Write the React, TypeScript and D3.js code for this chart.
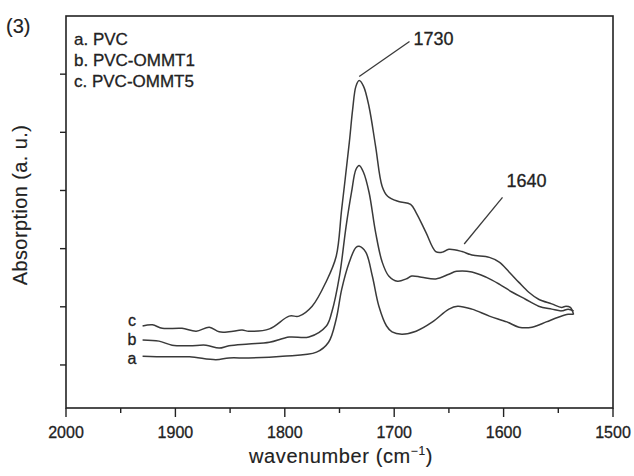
import React from "react";
import * as d3 from "d3";

// ---- data ----
const wnC = [1930, 1921, 1912, 1894, 1881, 1869, 1860, 1851, 1839, 1833, 1814, 1796, 1787, 1775, 1762, 1753, 1748, 1741, 1738, 1735, 1732, 1728, 1723, 1717, 1711, 1706, 1696, 1685, 1680, 1671, 1662, 1656, 1650, 1638, 1629, 1613, 1604, 1595, 1586, 1577, 1568, 1556, 1547, 1543, 1539, 1536];
const absC = [0.67, 0.69, 0.63, 0.63, 0.58, 0.65, 0.57, 0.57, 0.6, 0.58, 0.62, 0.84, 0.84, 1.01, 1.44, 1.87, 2.68, 3.83, 4.39, 4.79, 4.89, 4.79, 4.44, 3.76, 3.07, 2.9, 2.81, 2.76, 2.62, 2.28, 1.95, 1.94, 1.99, 1.95, 1.89, 1.85, 1.77, 1.6, 1.42, 1.25, 1.13, 1.05, 0.99, 1.01, 0.99, 0.87];

const wnB = [1930, 1915, 1903, 1887, 1872, 1860, 1851, 1833, 1814, 1796, 1778, 1762, 1757, 1750, 1744, 1739, 1735, 1732, 1728, 1723, 1717, 1711, 1705, 1697, 1689, 1684, 1675, 1662, 1650, 1643, 1629, 1616, 1604, 1592, 1580, 1568, 1556, 1547, 1541, 1536];
const absB = [0.43, 0.41, 0.34, 0.33, 0.34, 0.29, 0.33, 0.36, 0.39, 0.48, 0.48, 0.67, 0.91, 1.53, 2.38, 2.97, 3.36, 3.43, 3.31, 2.97, 2.28, 1.77, 1.53, 1.44, 1.48, 1.53, 1.51, 1.48, 1.56, 1.61, 1.6, 1.51, 1.39, 1.25, 1.13, 1.01, 0.96, 0.93, 0.96, 0.93];

const wnA = [1930, 1908, 1887, 1863, 1851, 1833, 1802, 1771, 1760, 1753, 1748, 1741, 1735, 1732, 1726, 1720, 1714, 1707, 1702, 1693, 1680, 1665, 1650, 1642, 1629, 1613, 1597, 1586, 1574, 1561, 1550, 1541, 1536];
const absA = [0.15, 0.14, 0.14, 0.09, 0.12, 0.12, 0.15, 0.22, 0.39, 0.79, 1.3, 1.77, 2.02, 2.04, 1.94, 1.53, 1.01, 0.67, 0.57, 0.53, 0.58, 0.74, 0.96, 1.01, 0.96, 0.84, 0.74, 0.65, 0.65, 0.74, 0.82, 0.87, 0.87];

const seriesNames = ["a", "b", "c"];
const legendLabels = ["a. PVC", "b. PVC-OMMT1", "c. PVC-OMMT5"];
const xMajorTicks = [2000, 1900, 1800, 1700, 1600, 1500];
const xMinorTicks = [1950, 1850, 1750, 1650, 1550];
const yTicks = [0, 1, 2, 3, 4, 5];

// annotations: label, line start [wn, abs], line end [wn, abs]
const annotLabels = ["1730", "1640"];
const annotFrom = [[1732, 4.96], [1636, 2.08]];
const annotTo = [[1686, 5.56], [1601, 2.88]];

const W = 634;
const H = 476;
const left = 66, right = 613, top = 16, bottom = 408;

export default function App() {
  const x = d3.scaleLinear().domain([2000, 1500]).range([left, right]);
  const y = d3.scaleLinear().domain([-0.74, 6]).range([bottom, top]);

  const line = d3
    .line<[number, number]>()
    .x((d) => x(d[0]))
    .y((d) => y(d[1]))
    .curve(d3.curveCatmullRom.alpha(0.5));

  const curves = [
    wnA.map((w, i) => [w, absA[i]] as [number, number]),
    wnB.map((w, i) => [w, absB[i]] as [number, number]),
    wnC.map((w, i) => [w, absC[i]] as [number, number]),
  ];

  const font = "'Liberation Sans', Arial, Helvetica, sans-serif";
  const ink = "#222";
  const curveInk = "#3a3a3a";
  const heavy = { stroke: ink, strokeWidth: 0.3 };
  const light = { stroke: ink, strokeWidth: 0.15 };

  return (
    <svg
      width={W}
      height={H}
      viewBox={`0 0 ${W} ${H}`}
      style={{ position: "absolute", left: 0, top: 0, background: "#fff" }}
      fontFamily={font}
    >
      <rect x={0} y={0} width={W} height={H} fill="#fff" />
      {/* frame */}
      <rect x={left} y={top} width={right - left} height={bottom - top} fill="none" stroke={ink} strokeWidth={1.6} />

      {/* x ticks */}
      {xMajorTicks.map((t) => (
        <g key={"xm" + t}>
          <line x1={x(t)} x2={x(t)} y1={bottom} y2={bottom + 9} stroke={ink} strokeWidth={1.4} />
          <text x={x(t)} y={438} fontSize={16} textAnchor="middle" fill={ink} {...heavy}>
            {t}
          </text>
        </g>
      ))}
      {xMinorTicks.map((t) => (
        <line key={"xn" + t} x1={x(t)} x2={x(t)} y1={bottom} y2={bottom + 5} stroke={ink} strokeWidth={1.4} />
      ))}

      {/* y ticks */}
      {yTicks.map((t) => (
        <line key={"y" + t} x1={left - 6} x2={left} y1={y(t)} y2={y(t)} stroke={ink} strokeWidth={1.4} />
      ))}

      {/* curves */}
      {curves.map((c, i) => (
        <path key={seriesNames[i]} d={line(c) || ""} fill="none" stroke={curveInk} strokeWidth={1.5} strokeLinejoin="round" />
      ))}

      {/* curve labels */}
      {seriesNames.map((n, i) => (
        <text key={"lab" + n} x={132} y={[364, 345, 326][i]} fontSize={16} textAnchor="middle" fill={ink} {...heavy}>
          {n}
        </text>
      ))}

      {/* legend */}
      {legendLabels.map((l, i) => (
        <text key={l} x={74} y={45 + i * 21} fontSize={17} fill={ink} {...heavy}>
          {l}
        </text>
      ))}

      {/* annotations */}
      {annotLabels.map((l, i) => (
        <g key={l}>
          <line
            x1={x(annotFrom[i][0])}
            y1={y(annotFrom[i][1])}
            x2={x(annotTo[i][0])}
            y2={y(annotTo[i][1])}
            stroke={curveInk}
            strokeWidth={1.3}
          />
          <text x={x(annotTo[i][0]) + 4} y={i === 0 ? 45 : 187} fontSize={18} fill={ink} {...heavy}>
            {l}
          </text>
        </g>
      ))}

      {/* panel label */}
      <text x={6} y={33} fontSize={20} fill={ink} {...light}>
        (3)
      </text>

      {/* axis titles */}
      <text x={341} y={463} fontSize={20} textAnchor="middle" fill={ink} letterSpacing={0.6} {...light}>
        wavenumber (cm
        <tspan dy={-8} fontSize={12}>
          −1
        </tspan>
        <tspan dy={8}>)</tspan>
      </text>
      <text transform={`translate(27,205) rotate(-90)`} fontSize={20} textAnchor="middle" fill={ink} letterSpacing={0.4} {...light}>
        Absorption (a. u.)
      </text>
    </svg>
  );
}
